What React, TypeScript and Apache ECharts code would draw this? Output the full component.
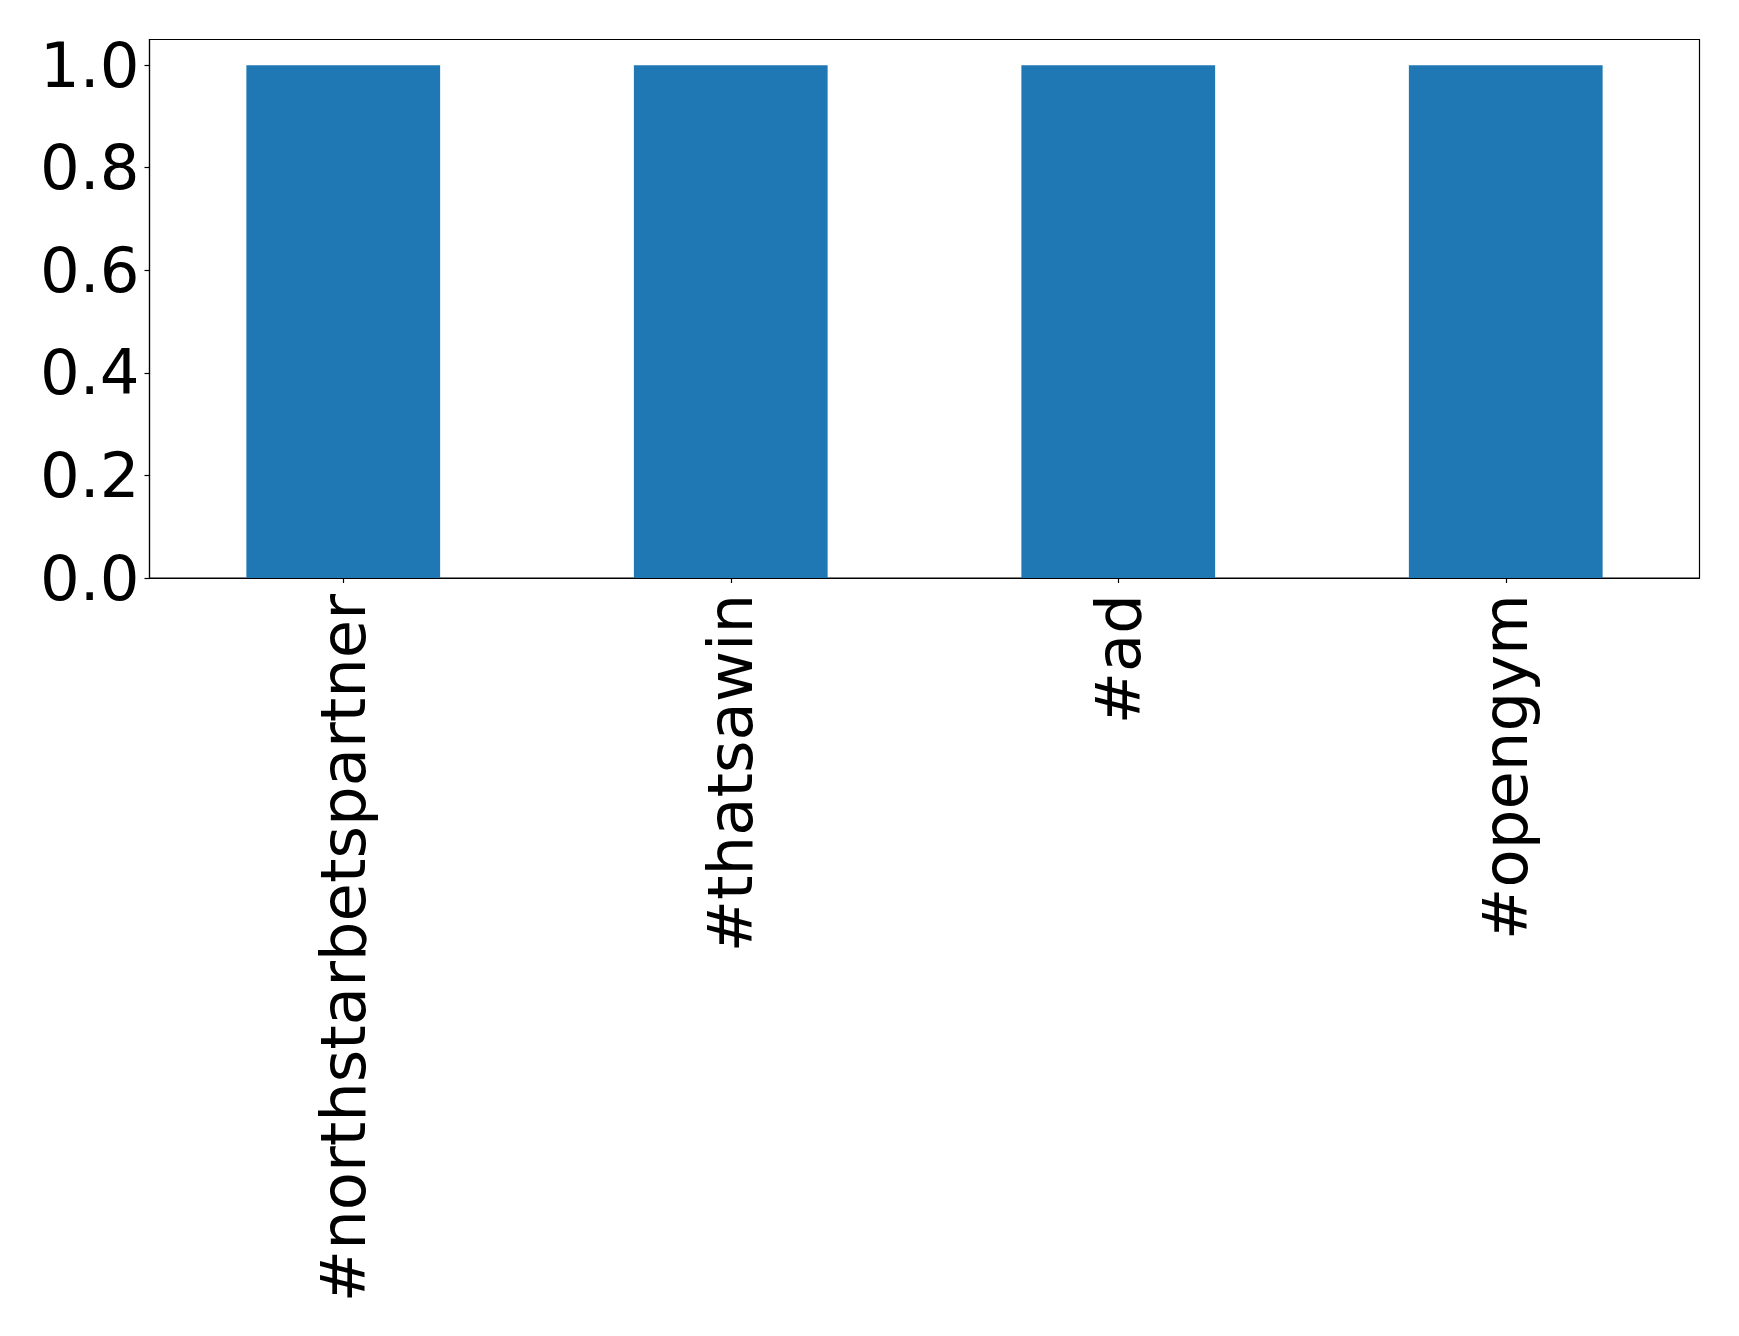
import React, { useEffect, useRef } from "react";
import * as echarts from "echarts";

const categories = ["#northstarbetspartner", "#thatsawin", "#ad", "#opengym"];
const values = [1, 1, 1, 1];
const yTicks = [0, 0.2, 0.4, 0.6, 0.8, 1.0];

export default function App() {
  const ref = useRef<HTMLDivElement>(null);
  useEffect(() => {
    document.body.style.margin = "0";
    const chart = echarts.init(ref.current!, null, { renderer: "svg" });
    const font = "DejaVu Sans";
    chart.setOption({
      animation: false,
      backgroundColor: "#ffffff",
      grid: {
        left: 149.5,
        top: 39.5,
        width: 1550,
        height: 538.5,
        show: true,
        borderColor: "#000000",
        borderWidth: 1.2,
        backgroundColor: "transparent",
      },
      xAxis: {
        type: "category",
        data: categories,
        boundaryGap: true,
        axisLine: { show: true, lineStyle: { color: "#000", width: 1.2 } },
        axisTick: { show: true, alignWithLabel: true, length: 5, lineStyle: { color: "#000", width: 1.2 } },
        axisLabel: {
          rotate: 90,
          margin: 16,
          fontFamily: font,
          fontSize: 62.5,
          color: "#000",
          interval: 0,
        },
        splitLine: { show: false },
      },
      yAxis: {
        type: "value",
        min: 0,
        max: 1.05,
        interval: 0.2,
        axisLine: { show: true, lineStyle: { color: "#000", width: 1.2 } },
        axisTick: { show: true, length: 5, lineStyle: { color: "#000", width: 1.2 } },
        axisLabel: {
          margin: 10,
          fontFamily: font,
          fontSize: 62.5,
          color: "#000",
          showMaxLabel: false,
          formatter: (v: number) => (yTicks.some((t) => Math.abs(t - v) < 1e-9) ? v.toFixed(1) : ""),
        },
        splitLine: { show: false },
      },
      series: [
        {
          type: "bar",
          data: values,
          barWidth: "50%",
          itemStyle: { color: "#1f77b4" },
        },
      ],
    });
    return () => chart.dispose();
  }, []);
  return <div ref={ref} style={{ width: 1739, height: 1336 }} />;
}
